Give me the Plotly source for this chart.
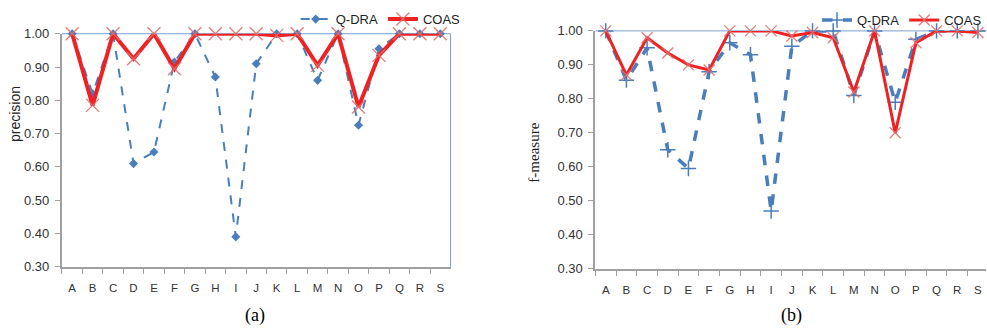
import plotly.graph_objects as go

W, H = 987, 335
categories = list("ABCDEFGHIJKLMNOPQRS")

prec_qdra = [1.00, 0.82, 1.00, 0.61, 0.645, 0.915, 1.00, 0.87, 0.39, 0.91,
             1.00, 1.00, 0.86, 1.00, 0.725, 0.955, 1.00, 1.00, 1.00]
prec_coas = [1.00, 0.785, 1.00, 0.925, 1.00, 0.895, 1.00, 1.00, 1.00, 1.00,
             0.995, 1.00, 0.905, 1.00, 0.78, 0.935, 1.00, 1.00, 1.00]

fm_qdra = [1.00, 0.855, 0.95, 0.65, 0.595, 0.88, 0.965, 0.93, 0.47, 0.955,
           1.00, 1.00, 0.81, 1.00, 0.79, 0.975, 1.00, 1.00, 1.00]
fm_coas = [1.00, 0.87, 0.98, 0.935, 0.90, 0.885, 1.00, 1.00, 1.00, 0.985,
           0.995, 0.98, 0.82, 1.00, 0.70, 0.965, 1.00, 1.00, 0.995]

yticks = [0.30, 0.40, 0.50, 0.60, 0.70, 0.80, 0.90, 1.00]

BLUE = "#4a7ebb"
RED = "#ee2222"
XMARK = "rgba(225,110,110,0.9)"

fig = go.Figure()

# left chart
fig.add_trace(go.Scatter(x=categories, y=prec_qdra, name="Q-DRA", mode="lines+markers",
                         line=dict(color=BLUE, width=2, dash="dash"),
                         marker=dict(symbol="diamond", size=7, color=BLUE),
                         xaxis="x", yaxis="y", legend="legend", cliponaxis=False))
fig.add_trace(go.Scatter(x=categories, y=prec_coas, name="COAS", mode="lines+markers",
                         line=dict(color=RED, width=4),
                         marker=dict(symbol="x-thin", size=13, line=dict(color=XMARK, width=1.3)),
                         xaxis="x", yaxis="y", legend="legend", cliponaxis=False))

# right chart
fig.add_trace(go.Scatter(x=categories, y=fm_qdra, name="Q-DRA", mode="lines+markers",
                         line=dict(color=BLUE, width=3.5, dash="dash"),
                         marker=dict(symbol="cross-thin", size=11, line=dict(color=BLUE, width=1.5)),
                         xaxis="x2", yaxis="y2", legend="legend2", cliponaxis=False))
fig.add_trace(go.Scatter(x=categories, y=fm_coas, name="COAS", mode="lines+markers",
                         line=dict(color=RED, width=3),
                         marker=dict(symbol="x-thin", size=11, line=dict(color=XMARK, width=1.3)),
                         xaxis="x2", yaxis="y2", legend="legend2", cliponaxis=False))

def px_x(p):
    return p / W

def px_y(p):
    return 1 - p / H

axis_font = dict(family="Liberation Sans, Arial, sans-serif", size=13, color="#333333")
xtick_font = dict(family="Liberation Sans, Arial, sans-serif", size=11.5, color="#333333")

common_x = dict(type="category", tickson="boundaries", ticks="outside", ticklen=5,
                tickcolor="#a0a0a0", showline=True, linecolor="#a0a0a0", linewidth=2,
                showgrid=False, tickfont=xtick_font, zeroline=False, ticklabelstandoff=9)
common_y = dict(range=[0.3, 1.0], tickvals=yticks, tickformat=".2f", ticks="outside",
                ticklen=5, tickcolor="#a0a0a0", showline=True, linecolor="#a0a0a0",
                linewidth=2, showgrid=False, tickfont=axis_font, zeroline=False,
                ticklabelstandoff=3)

fig.update_layout(
    width=W, height=H, margin=dict(l=0, r=0, t=0, b=0),
    paper_bgcolor="white", plot_bgcolor="white",
    xaxis=dict(domain=[px_x(62), px_x(451)], anchor="y", range=[-0.5, 18.5], **common_x),
    yaxis=dict(domain=[px_y(272), px_y(28)], anchor="x", **common_y),
    xaxis2=dict(domain=[px_x(596), 1.0], anchor="y2", range=[-0.5, 18.39], **common_x),
    yaxis2=dict(domain=[px_y(274), px_y(25)], anchor="x2", **common_y),
    legend=dict(orientation="h", x=px_x(296), y=px_y(-3), xanchor="left", yanchor="top",
                font=dict(family="Liberation Sans, Arial, sans-serif", size=13, color="#222222"),
                bgcolor="rgba(0,0,0,0)", tracegroupgap=0, itemwidth=30),
    legend2=dict(orientation="h", x=px_x(818), y=px_y(-2), xanchor="left", yanchor="top",
                 font=dict(family="Liberation Sans, Arial, sans-serif", size=13, color="#222222"),
                 bgcolor="rgba(0,0,0,0)", tracegroupgap=0, itemwidth=30),
    showlegend=True,
)

# plot area top/right border (blue)
fig.add_shape(type="line", xref="x domain", yref="y domain", x0=0, x1=1, y0=1, y1=1,
              line=dict(color="#7a9fd0", width=1), layer="below")
fig.add_shape(type="line", xref="x domain", yref="y domain", x0=1, x1=1, y0=0, y1=1,
              line=dict(color="#7a9fd0", width=1), layer="below")
fig.add_shape(type="line", xref="x2 domain", yref="y2 domain", x0=0, x1=1, y0=1, y1=1,
              line=dict(color="#7a9fd0", width=1), layer="below")

fig.add_annotation(text="precision", x=px_x(15), y=px_y(112), xref="paper", yref="paper",
                   textangle=-90, showarrow=False, xanchor="center", yanchor="middle",
                   font=dict(family="Liberation Sans, Arial, sans-serif", size=14, color="#222222"))
fig.add_annotation(text="f-measure", x=px_x(535), y=px_y(152), xref="paper", yref="paper",
                   textangle=-90, showarrow=False, xanchor="center", yanchor="middle",
                   font=dict(family="Liberation Serif, Times New Roman, serif", size=15, color="#222222"))
fig.add_annotation(text="(a)", x=px_x(255), y=px_y(323), xref="paper", yref="paper",
                   showarrow=False, xanchor="center", yanchor="middle",
                   font=dict(family="Liberation Serif, Times New Roman, serif", size=18, color="#000000"))
fig.add_annotation(text="(b)", x=px_x(792), y=px_y(323), xref="paper", yref="paper",
                   showarrow=False, xanchor="center", yanchor="middle",
                   font=dict(family="Liberation Serif, Times New Roman, serif", size=18, color="#000000"))

fig.write_html("out.html")
